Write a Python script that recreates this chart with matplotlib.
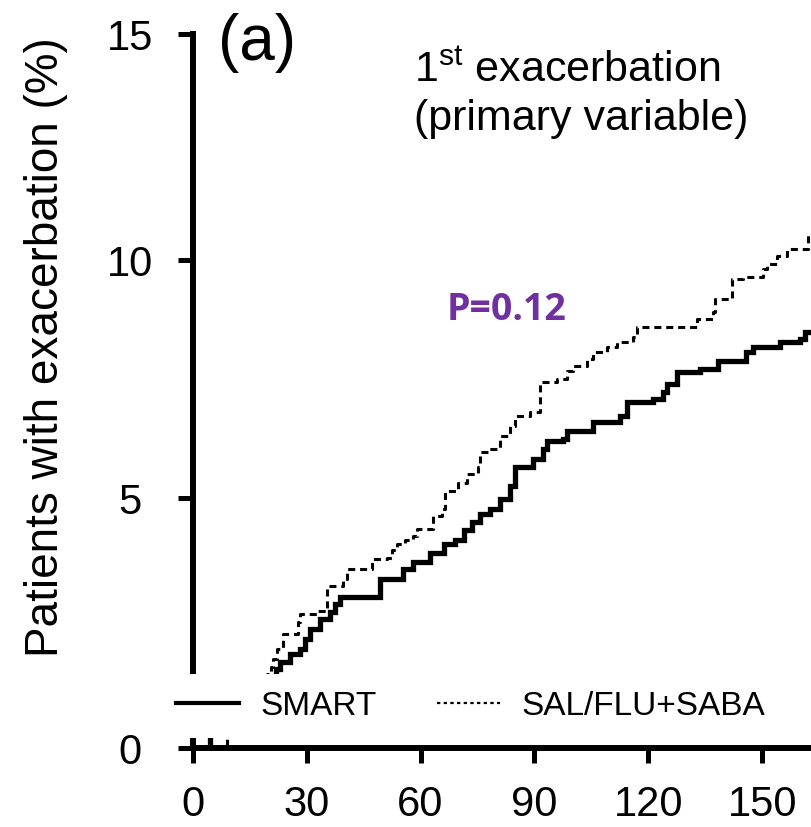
import numpy as np
import matplotlib

matplotlib.use("Agg")
import matplotlib.pyplot as plt
from matplotlib.lines import Line2D


# Kaplan-Meier style step data: day of event and cumulative % after that step
SMART_DAYS = [0, 4.5, 8, 11, 14, 17, 20, 22, 23.0, 25.5, 28.3, 29.5, 30.9, 33.5,
              36.2, 37.5, 38.8, 49.3, 55.4, 58.0, 62.5, 66.2, 69.0, 71.5, 73.5,
              75.7, 78.3, 80.9, 83.6, 84.9, 89.6, 92.3, 93.3, 97.5, 98.6, 105.4,
              112.5, 114.4, 121.2, 123.9, 124.9, 127.6, 133.6, 138.3, 145.8,
              147.6, 154.7, 160.0, 161.3, 166.0]
SMART_PCT = [0, 0.4, 0.55, 0.7, 0.9, 1.1, 1.35, 1.55, 1.7, 1.85, 1.95, 2.15,
             2.35, 2.55, 2.7, 2.85, 3.0, 3.35, 3.55, 3.7, 3.87, 4.07, 4.15, 4.35,
             4.5, 4.67, 4.77, 4.98, 5.25, 5.64, 5.8, 6.01, 6.17, 6.22, 6.38, 6.57,
             6.69, 6.99, 7.05, 7.2, 7.36, 7.61, 7.68, 7.85, 8.04, 8.14, 8.25,
             8.31, 8.46, 8.46]

SALFLU_DAYS = [0, 9, 11.5, 14, 16, 18, 19.5, 20.5, 21.2, 22.2, 23.8, 27.7, 28.3,
               32.7, 35.4, 39.5, 40.6, 47.2, 51.2, 52.5, 53.8, 56.0, 58.0, 59.0,
               63.3, 65.6, 66.4, 70.0, 72.2, 75.1, 75.7, 77.8, 80.9, 83.6, 84.9,
               88.8, 91.5, 95.9, 98.6, 100.2, 103.8, 105.4, 109.1, 111.7, 115.9,
               117.0, 132.8, 137.0, 137.6, 142.1, 145.0, 150.3, 151.3, 153.9,
               156.5, 162.1, 166.0]
SALFLU_PCT = [0, 0.45, 0.6, 0.75, 0.95, 1.2, 1.45, 1.6, 1.75, 1.95, 2.25, 2.49,
              2.65, 2.71, 3.21, 3.35, 3.55, 3.76, 3.78, 3.95, 4.07, 4.15, 4.23,
              4.37, 4.63, 4.77, 5.14, 5.3, 5.49, 5.64, 5.95, 6.01, 6.28, 6.49,
              6.69, 6.78, 7.41, 7.47, 7.64, 7.74, 7.89, 8.04, 8.14, 8.25, 8.35,
              8.57, 8.74, 8.89, 9.16, 9.59, 9.63, 9.81, 9.91, 10.09, 10.24,
              10.56, 10.56]

SERIES_LABELS = ["SMART", "SAL/FLU+SABA"]
X_TICKS = [0, 30, 60, 90, 120, 150]
Y_TICKS = [0, 5, 10, 15]
X_MAX = 163.1
PANEL_LABEL = "(a)"
P_VALUE_TEXT = "P=0.12"


def y_forward(v):
    # the source figure's y axis is slightly compressed towards the top
    v = np.asarray(v, dtype=float)
    return 51.2 * v - 0.24 * v ** 2


def y_inverse(h):
    h = np.asarray(h, dtype=float)
    disc = np.clip(51.2 ** 2 - 0.96 * h, 0, None)
    return (51.2 - np.sqrt(disc)) / 0.48


def main() -> None:
    plt.rcParams["font.family"] = ["Liberation Sans", "DejaVu Sans"]
    plt.rcParams["mathtext.fontset"] = "custom"
    plt.rcParams["mathtext.rm"] = "Liberation Sans"

    W, H = 812, 828
    fig = plt.figure(figsize=(W / 100, H / 100), dpi=100)
    ax = fig.add_axes([192.7 / W, (H - 749) / H, (W - 192.7) / W, 714 / H])

    dotted = (0, (2.3, 1.6))
    ax.step(SMART_DAYS, SMART_PCT, where="post", color="black", lw=3.8,
            solid_joinstyle="miter")
    ax.step(SALFLU_DAYS, SALFLU_PCT, where="post", color="black", lw=2.2,
            linestyle=dotted)

    ax.set_yscale("function", functions=(y_forward, y_inverse))
    ax.set_xlim(0, X_MAX)
    ax.set_ylim(0, 15)

    for side in ("top", "right"):
        ax.spines[side].set_visible(False)
    for side in ("left", "bottom"):
        ax.spines[side].set_linewidth(4.3)

    ax.set_xticks(X_TICKS, labels=[str(t) for t in X_TICKS])
    ax.set_yticks(Y_TICKS, labels=[str(t) for t in Y_TICKS], ha="center")
    ax.minorticks_off()
    ax.tick_params(axis="x", length=11, width=3.6, labelsize=30, pad=15)
    ax.tick_params(axis="y", length=11, width=3.6, labelsize=30, pad=34)

    handles = [
        Line2D([], [], color="black", lw=3.0),
        Line2D([], [], color="black", lw=1.6, linestyle=(0, (1.5, 1.5))),
    ]
    ax.legend(handles, SERIES_LABELS, ncol=2, loc="center left",
              bbox_to_anchor=(159 / W, (H - 707) / H),
              bbox_transform=fig.transFigure, frameon=True, fancybox=False,
              framealpha=1, facecolor="white", edgecolor="none", fontsize=24,
              handlelength=1.9, handletextpad=0.65, columnspacing=1.8,
              borderpad=0.5, borderaxespad=0)

    fig.text(46 / W, (H - 347) / H, "Patients with exacerbation (%)",
             rotation=90, fontsize=33, ha="center", va="center")
    fig.text(218 / W, (H - 60) / H, PANEL_LABEL, fontsize=46, va="baseline")
    fig.text(414 / W, (H - 82) / H, r"1$^{\mathrm{st}}$ exacerbation",
             fontsize=31, va="baseline")
    fig.text(414 / W, (H - 130) / H, "(primary variable)", fontsize=31,
             va="baseline")
    fig.text(447 / W, (H - 320) / H, P_VALUE_TEXT, fontsize=27,
             fontweight="bold", color="#7030A0",
             family=["Open Sans", "DejaVu Sans"], va="baseline")

    fig.savefig("out.png", dpi=100)
    plt.close(fig)


if __name__ == "__main__":
    main()
